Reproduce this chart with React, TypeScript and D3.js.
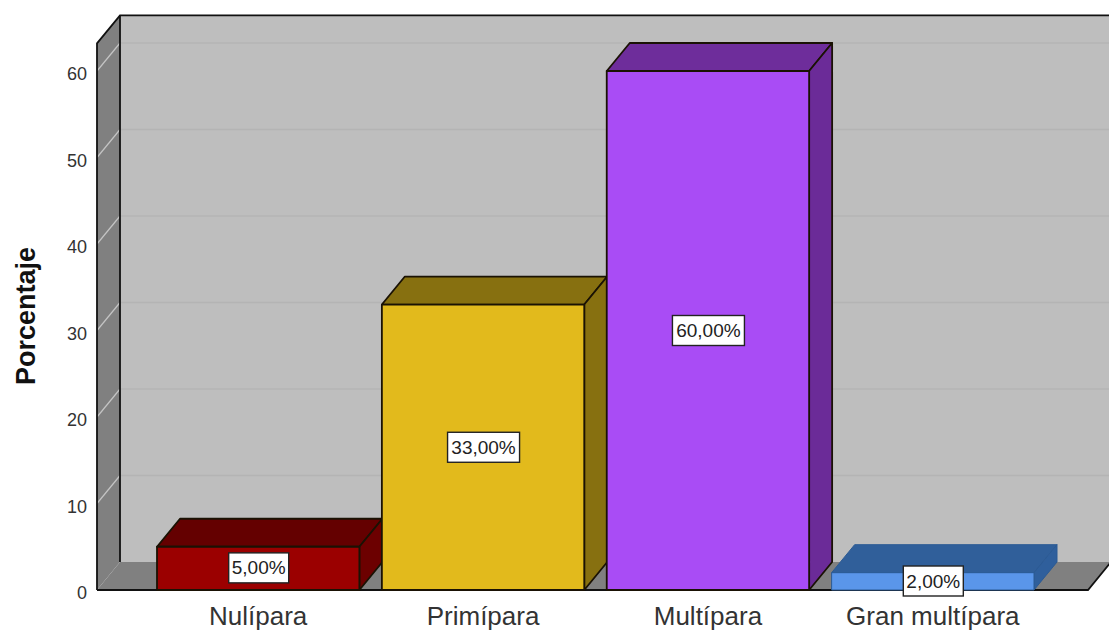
import React from "react";
import * as d3 from "d3";

const categories = ["Nulípara", "Primípara", "Multípara", "Gran multípara"];
const percentages = [5, 33, 60, 2];
const valueLabels = ["5,00%", "33,00%", "60,00%", "2,00%"];
const yTicks = [0, 10, 20, 30, 40, 50, 60];
const frontColors = ["#9b0000", "#e2ba1c", "#a94cf5", "#5a96ea"];
const topColors = ["#640000", "#877010", "#6e2d9b", "#305f9a"];
const sideColors = ["#6c0000", "#877010", "#6b2b98", "#2f5f9c"];

const WIDTH = 1109;
const HEIGHT = 631;
const DX = 23;
const DY = -28;
const wallLeft = 97;
const floorRight = 1088;
const y = d3.scaleLinear().domain([0, 60]).range([590, 71]);
const x = d3.scaleBand<string>().domain(categories).range([157, 1034]).paddingInner(0.1);
const yMax = 63.2;

const poly = (pts: [number, number][], fill: string, stroke = "none", sw = 0) => (
  <polygon
    points={pts.map((p) => p.join(",")).join(" ")}
    fill={fill}
    stroke={stroke}
    strokeWidth={sw}
    strokeLinejoin="round"
  />
);

export default function App() {
  const y0 = y(0);
  const yTop = y(yMax);
  const right = WIDTH + 10;
  return (
    <svg
      width={WIDTH}
      height={HEIGHT}
      viewBox={`0 0 ${WIDTH} ${HEIGHT}`}
      style={{ position: "absolute", left: 0, top: 0, background: "#ffffff" }}
      fontFamily="'Liberation Sans', Arial, sans-serif"
    >
      {/* back wall */}
      {poly(
        [
          [wallLeft + DX, yTop + DY],
          [right, yTop + DY],
          [right, y0 + DY],
          [wallLeft + DX, y0 + DY],
        ],
        "#bebebe"
      )}
      {/* floor */}
      {poly(
        [
          [wallLeft, y0],
          [wallLeft + DX, y0 + DY],
          [floorRight + DX, y0 + DY],
          [floorRight, y0],
        ],
        "#808080"
      )}
      {/* left wall */}
      {poly(
        [
          [wallLeft, yTop],
          [wallLeft + DX, yTop + DY],
          [wallLeft + DX, y0 + DY],
          [wallLeft, y0],
        ],
        "#808080"
      )}
      {/* gridlines across both walls */}
      {yTicks.slice(1).map((t) => (
        <g key={t}>
          <line x1={wallLeft + DX} x2={right} y1={y(t) + DY} y2={y(t) + DY} stroke="#b4b4b4" strokeWidth={1.5} />
          <line x1={wallLeft} x2={wallLeft + DX} y1={y(t)} y2={y(t) + DY} stroke="#c4c4c4" strokeWidth={1.2} />
        </g>
      ))}
      {/* wall and floor outlines */}
      <path
        d={`M${wallLeft},${y0} V${yTop} L${wallLeft + DX},${yTop + DY} H${right} M${wallLeft + DX},${yTop + DY} V${y0 + DY}`}
        fill="none"
        stroke="#111"
        strokeWidth={1.8}
      />
      <path d={`M${wallLeft},${y0} H${floorRight} L${floorRight + DX},${y0 + DY}`} fill="none" stroke="#111" strokeWidth={1.8} />

      {/* bars */}
      {categories.map((c, i) => {
        const x0 = x(c) as number;
        const x1 = x0 + x.bandwidth();
        const yv = y(percentages[i]);
        const edge = i === 3 ? "#2b5a94" : "#1a1204";
        const sw = i === 3 ? 1 : 1.8;
        return (
          <g key={c}>
            {poly(
              [
                [x0, yv],
                [x0 + DX, yv + DY],
                [x1 + DX, yv + DY],
                [x1, yv],
              ],
              topColors[i],
              edge,
              sw
            )}
            {poly(
              [
                [x1, yv],
                [x1 + DX, yv + DY],
                [x1 + DX, y0 + DY],
                [x1, y0],
              ],
              sideColors[i],
              edge,
              sw
            )}
            {poly(
              [
                [x0, yv],
                [x1, yv],
                [x1, y0],
                [x0, y0],
              ],
              frontColors[i],
              edge,
              sw
            )}
          </g>
        );
      })}

      {/* value labels */}
      {categories.map((c, i) => {
        const cx = (x(c) as number) + x.bandwidth() / 2 + 0.5;
        const yv = y(percentages[i]);
        const cy = i === 3 ? 581 : (yv + y0) / 2 - (i === 0 ? 0.5 : 0);
        const w = valueLabels[i].length === 5 ? 60 : 72;
        return (
          <g key={c}>
            <rect x={cx - w / 2} y={cy - 15} width={w} height={30} fill="#fff" stroke="#222" strokeWidth={1.4} />
            <text x={cx} y={cy + 6.5} textAnchor="middle" fontSize={19} fill="#222">
              {valueLabels[i]}
            </text>
          </g>
        );
      })}

      {/* value axis */}
      {yTicks.map((t) => (
        <text key={t} x={87} y={y(t) + 9} textAnchor="end" fontSize={18} fill="#333">
          {t}
        </text>
      ))}
      <text
        transform="translate(35,316) rotate(-90)"
        textAnchor="middle"
        fontSize={27}
        fontWeight="bold"
        fill="#111"
      >
        Porcentaje
      </text>

      {/* category axis */}
      {categories.map((c) => (
        <text
          key={c}
          x={(x(c) as number) + x.bandwidth() / 2}
          y={625}
          textAnchor="middle"
          fontSize={26}
          fill="#333"
        >
          {c}
        </text>
      ))}
    </svg>
  );
}
